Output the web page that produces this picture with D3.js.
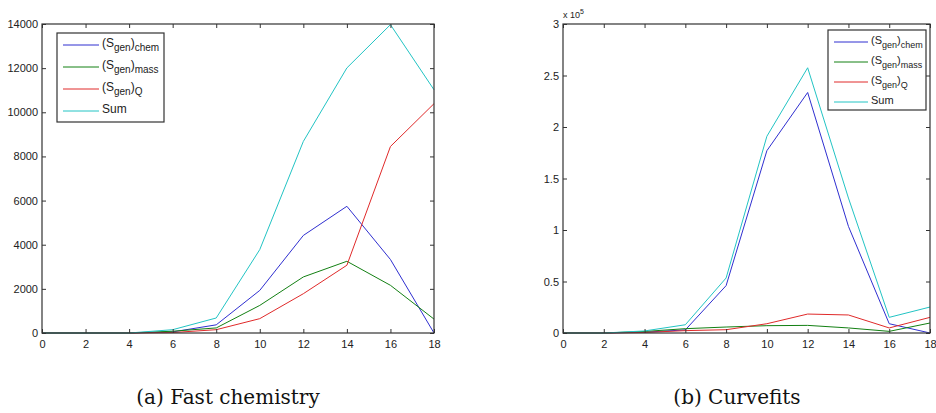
<!DOCTYPE html>
<html>
<head>
<meta charset="utf-8">
<script src="https://cdn.jsdelivr.net/npm/d3@7"></script>
<style>
  html, body { margin: 0; padding: 0; background: #fff; }
  svg text { font-family: "Liberation Sans", Arial, sans-serif; }
  .caption { font-family: "DejaVu Serif", "Liberation Serif", serif !important; }
</style>
</head>
<body>
<div id="chart"></div>
<script>
// x positions (both panels)
let xValues = [0, 2, 4, 6, 8, 10, 12, 14, 16, 18];

// (a) Fast chemistry
let fastChem = [0, 0, 0, 50, 370, 1930, 4420, 5740, 3330, 0];
let fastMass = [0, 0, 0, 80, 230, 1250, 2540, 3250, 2160, 630];
let fastQ    = [0, 0, 0, 20, 150, 650, 1780, 3070, 8450, 10390];
let fastSum  = [0, 0, 0, 150, 680, 3780, 8680, 12010, 13970, 11020];

// (b) Curvefits
let fitChem = [0, 0, 800, 3000, 46000, 177000, 233500, 103500, 9000, 0];
let fitMass = [0, 0, 1500, 4200, 5800, 7100, 7400, 4900, 1600, 9700];
let fitQ    = [0, 0, 500, 2300, 3200, 9000, 18400, 17500, 4900, 15200];
let fitSum  = [0, 0, 2000, 8000, 53400, 191000, 257500, 131000, 15200, 25200];

let xTicks = [0, 2, 4, 6, 8, 10, 12, 14, 16, 18];
let yTicksFast = [0, 2000, 4000, 6000, 8000, 10000, 12000, 14000];
let yTicksFit = [0, 50000, 100000, 150000, 200000, 250000, 300000];

let seriesNames = [['chem'], ['mass'], ['Q'], null];
let colors = ['#2f2fd0', '#138013', '#e02a2a', '#22c4c4'];

let svg = d3.select('#chart').append('svg')
  .attr('width', 936)
  .attr('height', 413);

function drawPanel(opts) {
  let g = svg.append('g');
  let x = d3.scaleLinear().domain([0, 18]).range([opts.left, opts.right]);
  let y = d3.scaleLinear().domain([0, opts.yMax]).range([opts.bottom, opts.top]);

  // lines
  let line = d3.line().x((d, i) => x(xValues[i])).y(d => y(d));
  opts.series.forEach((s, i) => {
    g.append('path')
     .attr('d', line(s))
     .attr('fill', 'none')
     .attr('stroke', colors[i])
     .attr('stroke-width', 1);
  });

  // ticks, inward like matlab
  let bottomAxis = g.append('g')
    .attr('transform', `translate(0, ${opts.bottom})`)
    .call(d3.axisBottom(x).tickValues(xTicks).tickSizeInner(-4).tickSizeOuter(0).tickPadding(5));
  g.append('g')
    .attr('transform', `translate(0, ${opts.top})`)
    .call(d3.axisTop(x).tickValues(xTicks).tickSizeInner(-4).tickSizeOuter(0).tickFormat(''));
  g.append('g')
    .attr('transform', `translate(${opts.left}, 0)`)
    .call(d3.axisLeft(y).tickValues(opts.yTicks).tickSizeInner(-4).tickSizeOuter(0).tickPadding(4).tickFormat(opts.yFormat));
  g.append('g')
    .attr('transform', `translate(${opts.right}, 0)`)
    .call(d3.axisRight(y).tickValues(opts.yTicks).tickSizeInner(-4).tickSizeOuter(0).tickFormat(''));

  g.selectAll('.domain').remove();
  g.selectAll('.tick line').attr('stroke', '#333');
  g.selectAll('.tick text').style('font-size', '11px').attr('fill', '#222');
  bottomAxis.selectAll('.tick text').attr('dy', '0.9em');

  // box
  g.append('rect')
   .attr('x', opts.left).attr('y', opts.top)
   .attr('width', opts.right - opts.left).attr('height', opts.bottom - opts.top)
   .attr('fill', 'none').attr('stroke', '#333').attr('stroke-width', 1.2);

  // legend
  let L = opts.legend;
  let lg = g.append('g');
  lg.append('rect')
    .attr('x', L.x).attr('y', L.y)
    .attr('width', L.w).attr('height', L.h)
    .attr('fill', '#fff').attr('stroke', '#333').attr('stroke-width', 1.2);
  seriesNames.forEach((n, i) => {
    let ly = L.y + L.row0 + i * L.step;
    lg.append('line')
      .attr('x1', L.x + 6).attr('x2', L.x + 6 + L.lineLen)
      .attr('y1', ly).attr('y2', ly)
      .attr('stroke', colors[i]).attr('stroke-width', 1);
    let t = lg.append('text')
      .attr('x', L.x + 9 + L.lineLen)
      .attr('y', ly + 2)
      .style('font-size', L.font + 'px')
      .attr('fill', '#222');
    if (n === null) {
      t.text('Sum');
    } else {
      t.append('tspan').text('(S');
      t.append('tspan').attr('dy', 4).style('font-size', (L.font - 2) + 'px').text('gen');
      t.append('tspan').attr('dy', -4).text(')');
      t.append('tspan').attr('dy', 4).style('font-size', (L.font - 2) + 'px').text(n[0]);
    }
  });

  // caption
  svg.append('text')
     .attr('class', 'caption')
     .attr('x', opts.captionX)
     .attr('y', 404)
     .attr('text-anchor', 'middle')
     .style('font-size', '20px')
     .attr('fill', '#111')
     .text(opts.caption);
}

drawPanel({
  left: 42, right: 434, top: 24, bottom: 333,
  yMax: 14000, yTicks: yTicksFast, yFormat: d3.format('d'),
  series: [fastChem, fastMass, fastQ, fastSum],
  legend: { x: 57, y: 33, w: 107, h: 89, row0: 12, step: 22, lineLen: 36, font: 12 },
  caption: '(a) Fast chemistry', captionX: 228
});

drawPanel({
  left: 563, right: 930, top: 24, bottom: 333,
  yMax: 300000, yTicks: yTicksFit, yFormat: v => String(v / 100000),
  series: [fitChem, fitMass, fitQ, fitSum],
  legend: { x: 828, y: 30, w: 98, h: 80, row0: 12, step: 20, lineLen: 34, font: 11 },
  caption: '(b) Curvefits', captionX: 737
});

// exponent label on the right panel
let expo = svg.append('text')
  .attr('x', 563).attr('y', 18)
  .style('font-size', '9px')
  .attr('fill', '#222');
expo.append('tspan').text('x 10');
expo.append('tspan').attr('dy', -4).style('font-size', '7px').text('5');
</script>
</body>
</html>
